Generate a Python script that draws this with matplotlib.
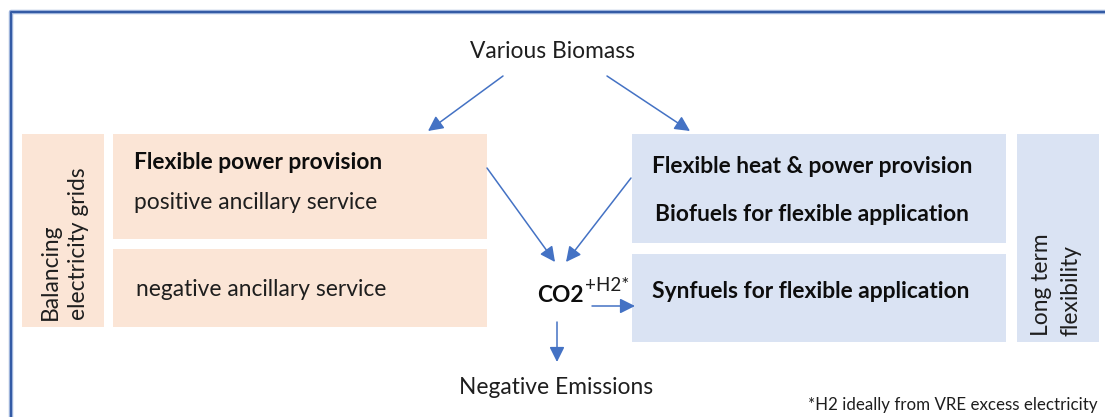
import matplotlib.pyplot as plt
from matplotlib.patches import Rectangle, FancyArrowPatch

plt.rcParams['font.family'] = ['Lato', 'DejaVu Sans']

# box texts
source_label = "Various Biomass"
left_side_label = ["Balancing", "electricity grids"]
right_side_label = ["Long term", "flexibility"]
power_top = ["Flexible power provision", "positive ancillary service"]
power_bottom = "negative ancillary service"
fuel_top = ["Flexible heat & power provision", "Biofuels for flexible application"]
fuel_bottom = "Synfuels for flexible application"
co2_label = "CO2"
h2_label = "+H2*"
sink_label = "Negative Emissions"
footnote = "*H2 ideally from VRE excess electricity"

peach = "#FBE5D6"
blue_box = "#DAE3F3"
arrow_col = "#4472C4"

W, H = 1105, 417
fig = plt.figure(figsize=(W / 100, H / 100), dpi=100)
ax = fig.add_axes([0, 0, 1, 1])
ax.set_xlim(0, W)
ax.set_ylim(H, 0)
ax.axis("off")

# outer frame (left + top edges only visible)
ax.plot([10.5, 10.5, W + 5], [H + 5, 11.5, 11.5], color="#9DB3DB", lw=3.2, solid_capstyle="butt")
ax.plot([10.5, 10.5, W + 5], [H + 5, 11.5, 11.5], color="#3259A4", lw=1.4, solid_capstyle="butt")

# boxes: (x0, y0, x1, y1, colour)
boxes = [
    (22, 134, 104, 327, peach),
    (113, 134, 487, 239, peach),
    (113, 249, 487, 327, peach),
    (632, 134, 1006, 243, blue_box),
    (632, 254, 1006, 342, blue_box),
    (1017, 134, 1099, 342, blue_box),
]
for x0, y0, x1, y1, c in boxes:
    ax.add_patch(Rectangle((x0, y0), x1 - x0, y1 - y0, facecolor=c, edgecolor="none"))

fs = 16.4
txt = "#1e1e1e"
ax.text(553, 58, source_label, ha="center", va="baseline", fontsize=fs, color=txt)

ax.text(134, 169, power_top[0], ha="left", va="baseline", fontsize=fs, fontweight="bold", color="#0d0d0d")
ax.text(134, 209, power_top[1], ha="left", va="baseline", fontsize=fs, color=txt)
ax.text(136, 296, power_bottom, ha="left", va="baseline", fontsize=fs, color=txt)

ax.text(652, 173, fuel_top[0], ha="left", va="baseline", fontsize=fs, fontweight="bold", color="#0d0d0d")
ax.text(655, 221, fuel_top[1], ha="left", va="baseline", fontsize=fs, fontweight="bold", color="#0d0d0d")
ax.text(652, 298, fuel_bottom, ha="left", va="baseline", fontsize=fs, fontweight="bold", color="#0d0d0d")

ax.text(537, 302, co2_label, ha="left", va="baseline", fontsize=16.3, fontweight="bold", color="#0d0d0d")
ax.text(585, 291, h2_label, ha="left", va="baseline", fontsize=13.5, color=txt)

ax.text(556, 394, sink_label, ha="center", va="baseline", fontsize=fs, color=txt)
ax.text(1098, 410, footnote, ha="right", va="baseline", fontsize=12.2, color=txt)

# rotated side labels
ax.text(57, 320, left_side_label[0], rotation=90, rotation_mode="anchor",
        ha="left", va="baseline", fontsize=fs, color=txt)
ax.text(85, 320, left_side_label[1], rotation=90, rotation_mode="anchor",
        ha="left", va="baseline", fontsize=fs, color=txt)
ax.text(1048, 336, right_side_label[0], rotation=90, rotation_mode="anchor",
        ha="left", va="baseline", fontsize=fs, color=txt)
ax.text(1078, 336, right_side_label[1], rotation=90, rotation_mode="anchor",
        ha="left", va="baseline", fontsize=fs, color=txt)

# arrows
arrows = [
    ((503, 76), (428, 131)),
    ((607, 76), (690, 131)),
    ((487, 168), (555, 262)),
    ((631, 178), (566, 262)),
    ((592, 306), (635, 306)),
    ((557, 322), (557, 362)),
]
for start, end in arrows:
    ax.add_patch(FancyArrowPatch(start, end, arrowstyle="-|>,head_length=7,head_width=3.5",
                                 color=arrow_col, lw=1.1, mutation_scale=1.3,
                                 shrinkA=0, shrinkB=0))

fig.savefig("out.png", dpi=100)
